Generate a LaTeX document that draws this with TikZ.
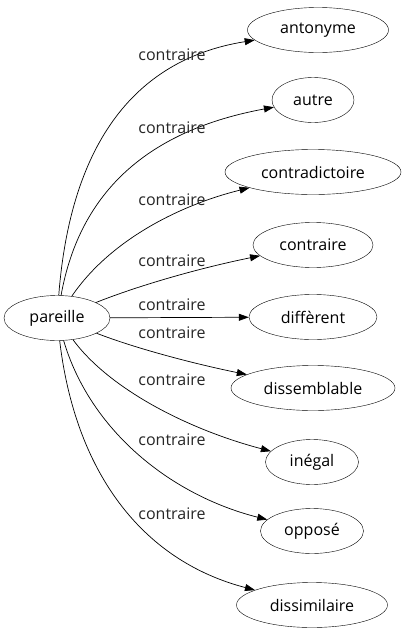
\documentclass[tikz,border=0pt]{standalone}
\usepackage{fontspec}
\setmainfont{Open Sans}
\usetikzlibrary{shapes.geometric,arrows.meta}
\begin{document}
\begin{tikzpicture}[x=1pt,y=-1pt,
  word/.style={draw,ellipse,inner sep=0pt,minimum height=45pt,font=\fontsize{16}{18}\selectfont},
  rel/.style={font=\fontsize{16}{18}\selectfont,inner sep=0pt,text=black!85},
  link/.style={-{Triangle[length=10pt,width=7pt]},line width=0.7pt}]
\useasboundingbox (0,0) rectangle (404,635);
\node[word,minimum width=106pt] (p) at (57,318) {pareille};
\node[word,minimum width=141pt] (a1) at (318,30) {antonyme};
\node[word,minimum width=82pt] (a2) at (313,100) {autre};
\node[word,minimum width=176pt] (a3) at (313,172) {contradictoire};
\node[word,minimum width=120pt] (a4) at (313,245) {contraire};
\node[word,minimum width=128pt] (a5) at (313,317) {diffèrent};
\node[word,minimum width=164pt] (a6) at (313,388) {dissemblable};
\node[word,minimum width=93pt] (a7) at (312,462) {inégal};
\node[word,minimum width=103pt] (a8) at (312,531) {opposé};
\node[word,minimum width=151pt] (a9) at (312,605) {dissimilaire};
\draw[link] (p) .. controls (70,150) and (130,60) .. (a1);
\draw[link] (p) .. controls (80,190) and (150,130) .. (a2);
\draw[link] (p) .. controls (110,240) and (180,205) .. (a3);
\draw[link] (p) .. controls (140,285) and (200,268) .. (a4);
\draw[link] (p) -- (a5);
\draw[link] (p) .. controls (140,350) and (200,365) .. (a6);
\draw[link] (p) .. controls (110,390) and (190,430) .. (a7);
\draw[link] (p) .. controls (90,430) and (170,495) .. (a8);
\draw[link] (p) .. controls (75,470) and (140,560) .. (a9);
\node[rel] (l1) at (172,55) {contraire};
\node[rel] (l2) at (172,128) {contraire};
\node[rel] (l3) at (172,200) {contraire};
\node[rel] (l4) at (172,261) {contraire};
\node[rel] (l5) at (172,305) {contraire};
\node[rel] (l6) at (172,333) {contraire};
\node[rel] (l7) at (172,380) {contraire};
\node[rel] (l8) at (172,440) {contraire};
\node[rel] (l9) at (172,514) {contraire};
\end{tikzpicture}
\end{document}
